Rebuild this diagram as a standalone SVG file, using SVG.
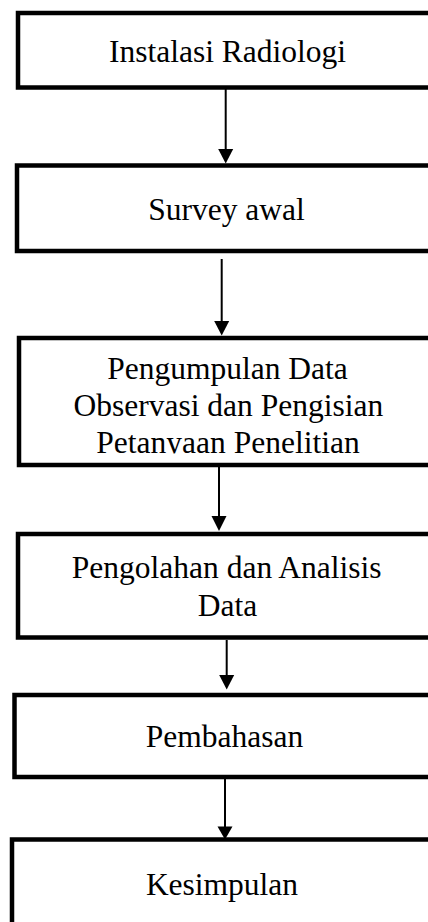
<svg xmlns="http://www.w3.org/2000/svg" width="428" height="922" viewBox="0 0 428 922">
<defs>
<style>
.box{fill:#fff;stroke:#000;stroke-width:4.5;stroke-linejoin:miter}
.t{font-family:"Liberation Serif","Times New Roman",serif;font-size:31.5px;fill:#000;text-anchor:middle}
.c{stroke:#000;stroke-width:2;fill:none}
.h{fill:#000}
</style>
<clipPath id="clip3"><rect x="0" y="340" width="428" height="113.5"/></clipPath>
</defs>
<rect width="428" height="922" fill="#fff"/>
<g id="connectors">
<line class="c" x1="225.7" y1="89" x2="225.7" y2="150"/>
<polygon class="h" points="218.2,149 233.2,149 225.7,163.5"/>
<line class="c" x1="221.7" y1="259" x2="221.7" y2="322"/>
<polygon class="h" points="214.2,321 229.2,321 221.7,335.5"/>
<line class="c" x1="219" y1="467" x2="219" y2="517"/>
<polygon class="h" points="211.5,516 226.5,516 219,531"/>
<line class="c" x1="226.7" y1="640" x2="226.7" y2="676"/>
<polygon class="h" points="219.2,675 234.2,675 226.7,689.5"/>
<line class="c" x1="225" y1="779" x2="225" y2="827"/>
<polygon class="h" points="217.5,826.5 232.5,826.5 225,839.5"/>
</g>
<g id="node1">
<rect class="box" x="18" y="13" width="430" height="74.5"/>
<text class="t" x="227.5" y="62">Instalasi Radiologi</text>
</g>
<g id="node2">
<rect class="box" x="17" y="165.5" width="430" height="85.5"/>
<text class="t" x="226.5" y="220">Survey awal</text>
</g>
<g id="node3">
<rect class="box" x="19" y="338" width="430" height="127"/>
<text class="t" x="227.5" y="379.3">Pengumpulan Data</text>
<text class="t" x="228.3" y="416">Observasi dan Pengisian</text>
<text class="t" x="228" y="452.7" clip-path="url(#clip3)">Petanyaan Penelitian</text>
</g>
<g id="node4">
<rect class="box" x="18" y="534" width="430" height="103.5"/>
<text class="t" x="226.7" y="578.3">Pengolahan dan Analisis</text>
<text class="t" x="227.5" y="616">Data</text>
</g>
<g id="node5">
<rect class="box" x="14.5" y="695" width="430" height="82"/>
<text class="t" x="224.5" y="747.3">Pembahasan</text>
</g>
<g id="node6">
<rect class="box" x="12" y="839.5" width="430" height="120"/>
<text class="t" x="222" y="895">Kesimpulan</text>
</g>
</svg>
